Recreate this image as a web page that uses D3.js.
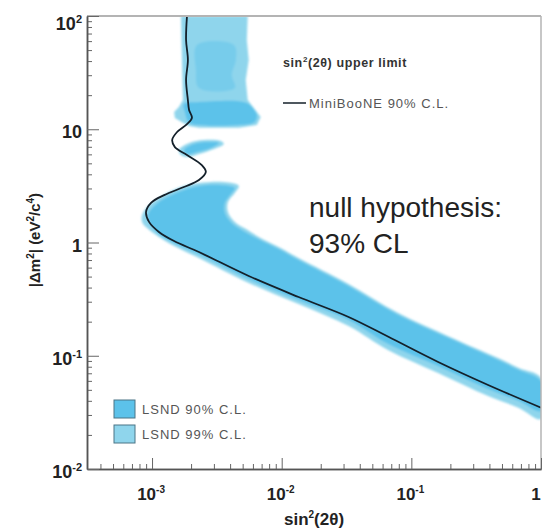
<!DOCTYPE html>
<html>
<head>
<meta charset="utf-8">
<script src="https://cdn.jsdelivr.net/npm/d3@7"></script>
<style>
  body { margin: 0; background: #fff; }
  text { font-family: "Liberation Sans", Arial, Helvetica, sans-serif; }
</style>
</head>
<body>
<svg id="chart" width="542" height="528"></svg>
<script>
// Axis ticks and their labels ([base, exponent])
const xTickValues = [1e-3, 1e-2, 1e-1, 1];
const xTickLabels = [["10", "-3"], ["10", "-2"], ["10", "-1"], ["1", ""]];
const yTickValues = [1e-2, 1e-1, 1, 10, 100];
const yTickLabels = [["10", "-2"], ["10", "-1"], ["1", ""], ["10", ""], ["10", "2"]];

// MiniBooNE 90% C.L. upper limit: [sin^2(2θ), Δm^2 (eV^2/c^4)]
const miniBooNE = [
  [1.86e-3, 100], [1.83e-3, 61.4], [1.89e-3, 40.9], [1.83e-3, 27.2], [1.89e-3, 18.1],
  [1.93e-3, 14.8], [2.03e-3, 12.6], [1.86e-3, 11.1], [1.56e-3, 9.46], [1.43e-3, 8.04],
  [1.50e-3, 6.96], [1.86e-3, 5.93], [2.42e-3, 4.83], [2.60e-3, 4.20], [2.30e-3, 3.56],
  [1.76e-3, 3.09], [1.24e-3, 2.62], [9.82e-4, 2.24], [8.99e-4, 1.86], [9.48e-4, 1.52],
  [1.13e-3, 1.24], [1.48e-3, 1.03], [2.30e-3, 0.824], [5.57e-3, 0.506], [1.35e-2, 0.330],
  [3.28e-2, 0.220], [6.65e-2, 0.147], [0.161, 0.0881], [0.391, 0.0552], [1.0, 0.0348]
];

// LSND 99% C.L. allowed regions (closed contours)
const lsnd99Top = [
  [1.67e-3, 100], [5.47e-3, 100], [5.38e-3, 61.4], [5.57e-3, 40.9], [5.28e-3, 27.2],
  [5.47e-3, 18.1], [6.89e-3, 12.8], [6.43e-3, 10.9], [4.67e-3, 10.3], [2.30e-3, 10.3],
  [1.93e-3, 10.7], [1.73e-3, 11.4], [1.50e-3, 12.6], [1.48e-3, 14.2], [1.61e-3, 15.7],
  [1.73e-3, 18.1], [1.70e-3, 40.9]
];
const lsnd99Finger = [
  [1.61e-3, 6.56], [1.93e-3, 7.56], [2.51e-3, 8.04], [3.40e-3, 7.87], [3.58e-3, 7.41],
  [3.00e-3, 6.69], [2.30e-3, 6.04], [1.86e-3, 5.69], [1.67e-3, 5.93]
];
const lsnd99Main = [
  [8.38e-4, 1.75], [9.48e-4, 2.14], [1.13e-3, 2.47], [1.35e-3, 2.79], [1.76e-3, 3.16],
  [2.30e-3, 3.35], [3.58e-3, 3.42], [4.67e-3, 3.16], [4.35e-3, 2.74], [3.85e-3, 2.28],
  [3.85e-3, 1.86], [4.35e-3, 1.52], [5.28e-3, 1.32], [6.65e-3, 1.12], [9.48e-3, 0.912],
  [1.35e-2, 0.730], [3.28e-2, 0.430], [7.94e-2, 0.238], [0.193, 0.149], [0.467, 0.0955],
  [0.676, 0.0780], [1.0, 0.0637], [1.0, 0.0276], [0.676, 0.0346], [0.391, 0.0441],
  [0.161, 0.0705], [6.65e-2, 0.112], [3.28e-2, 0.183], [1.35e-2, 0.286], [5.57e-3, 0.439],
  [2.30e-3, 0.730], [1.48e-3, 0.931], [1.13e-3, 1.12], [9.16e-4, 1.34], [8.38e-4, 1.52]
];

// LSND 90% C.L. allowed regions (closed contours)
const lsnd90Top = [
  [1.76e-3, 16.7], [2.30e-3, 17.4], [4.67e-3, 17.7], [5.57e-3, 16.7], [6.43e-3, 13.4],
  [6.19e-3, 11.6], [4.67e-3, 10.9], [2.30e-3, 10.9], [1.93e-3, 11.4], [1.79e-3, 14.2]
];
const lsnd90Streak = [
  [2.22e-3, 55.5], [4.28e-3, 55.5], [4.43e-3, 40.9], [4.12e-3, 30.1], [4.35e-3, 23.1],
  [2.30e-3, 23.1], [2.18e-3, 33.3]
];
const lsnd90Finger = [
  [1.76e-3, 6.56], [2.10e-3, 7.41], [2.74e-3, 7.71], [3.28e-3, 7.56], [2.84e-3, 6.83],
  [2.22e-3, 6.30], [1.86e-3, 6.04]
];
const lsnd90Main = [
  [9.48e-4, 1.86], [1.13e-3, 2.28], [1.40e-3, 2.62], [1.76e-3, 2.91], [2.30e-3, 3.16],
  [3.40e-3, 3.22], [4.35e-3, 3.03], [4.06e-3, 2.68], [3.65e-3, 2.24], [3.65e-3, 1.82],
  [4.12e-3, 1.49], [5.10e-3, 1.26], [6.65e-3, 1.07], [9.48e-3, 0.875], [1.35e-2, 0.700],
  [3.28e-2, 0.413], [7.94e-2, 0.229], [0.193, 0.144], [0.467, 0.0917], [0.676, 0.0748],
  [1.0, 0.0598], [1.0, 0.0325], [0.676, 0.0398], [0.391, 0.0508], [0.161, 0.0811],
  [6.65e-2, 0.127], [3.28e-2, 0.207], [1.35e-2, 0.310], [5.57e-3, 0.476], [2.30e-3, 0.791],
  [1.48e-3, 0.990], [1.13e-3, 1.19], [9.82e-4, 1.43], [9.31e-4, 1.64]
];

const legendEntries = ["LSND 90% C.L.", "LSND 99% C.L."];

const C90 = "#5cc2ea";
const C99 = "#8fd5ec";

const svg = d3.select("#chart");
const L = 87, R = 541, T = 16, B = 469;
const x = d3.scaleLog().domain([3.15e-4, 1]).range([L, R]);
const y = d3.scaleLog().domain([0.01, 100]).range([B, T]);

const defs = svg.append("defs");
defs.append("clipPath").attr("id", "plotClip")
  .append("rect").attr("x", L).attr("y", T).attr("width", R - L).attr("height", B - T);
defs.append("filter").attr("id", "soft").attr("x", "-5%").attr("y", "-5%").attr("width", "110%").attr("height", "110%")
  .append("feGaussianBlur").attr("stdDeviation", 1.1);

const plot = svg.append("g").attr("clip-path", "url(#plotClip)");
const bands = plot.append("g").attr("filter", "url(#soft)");

const smooth = d3.line().x(d => x(d[0])).y(d => y(d[1])).curve(d3.curveCatmullRomClosed.alpha(0.5));
const straight = d3.line().x(d => x(d[0])).y(d => y(d[1])).curve(d3.curveLinearClosed);

bands.append("path").attr("d", straight(lsnd99Top)).attr("fill", C99);
bands.append("path").attr("d", smooth(lsnd99Finger)).attr("fill", C99);
bands.append("path").attr("d", smooth(lsnd99Main)).attr("fill", C99);
bands.append("path").attr("d", smooth(lsnd90Top)).attr("fill", C90);
bands.append("path").attr("d", smooth(lsnd90Streak)).attr("fill", C90).attr("opacity", 0.45);
bands.append("path").attr("d", smooth(lsnd90Finger)).attr("fill", C90);
bands.append("path").attr("d", smooth(lsnd90Main)).attr("fill", C90);

plot.append("path")
  .attr("d", d3.line().x(d => x(d[0])).y(d => y(d[1])).curve(d3.curveCatmullRom.alpha(0.5))(miniBooNE))
  .attr("fill", "none").attr("stroke", "#14202a").attr("stroke-width", 1.8);

// Frame
svg.append("line").attr("x1", L).attr("x2", R).attr("y1", T).attr("y2", T).attr("stroke", "#b4b4b4").attr("stroke-width", 2);
svg.append("line").attr("x1", R).attr("x2", R).attr("y1", T).attr("y2", B).attr("stroke", "#b4b4b4").attr("stroke-width", 1.5);

// Axes with major and minor ticks pointing into the plot
const isDecade = v => Math.abs(Math.log10(v) - Math.round(Math.log10(v))) < 1e-9;
const xMinor = x.ticks().filter(v => !isDecade(v));
const yMinor = y.ticks().filter(v => !isDecade(v));

function styleAxis(g) {
  g.select(".domain").attr("stroke", "#555").attr("stroke-width", 1.5);
  g.selectAll(".tick line").attr("stroke", "#666").attr("stroke-width", 1);
  g.selectAll(".tick text").remove();
}
svg.append("g").attr("transform", `translate(0,${B})`)
  .call(d3.axisBottom(x).tickValues(xMinor).tickSizeInner(-5).tickSizeOuter(0)).call(styleAxis);
svg.append("g").attr("transform", `translate(0,${B})`)
  .call(d3.axisBottom(x).tickValues(xTickValues).tickSizeInner(-11).tickSizeOuter(0)).call(styleAxis);
svg.append("g").attr("transform", `translate(${L},0)`)
  .call(d3.axisLeft(y).tickValues(yMinor).tickSizeInner(-5).tickSizeOuter(0)).call(styleAxis);
svg.append("g").attr("transform", `translate(${L},0)`)
  .call(d3.axisLeft(y).tickValues(yTickValues).tickSizeInner(-12).tickSizeOuter(0)).call(styleAxis);

function powerLabel(sel, lbl, supSize, rise) {
  sel.append("tspan").text(lbl[0]);
  if (lbl[1]) sel.append("tspan").attr("font-size", supSize).attr("dy", -rise).text(lbl[1]);
}

yTickValues.forEach((v, i) => {
  const t = svg.append("text").attr("x", 82).attr("y", Math.max(y(v) + 9, 30))
    .attr("text-anchor", "end").attr("font-size", 18).attr("font-weight", "bold").attr("fill", "#222");
  powerLabel(t, yTickLabels[i], 11, 7);
});
xTickValues.forEach((v, i) => {
  // keep the last label inside the canvas
  const px = Math.min(x(v) - 1, 536);
  const t = svg.append("text").attr("x", px).attr("y", 500)
    .attr("text-anchor", "middle").attr("font-size", 17).attr("font-weight", "bold").attr("fill", "#222");
  powerLabel(t, xTickLabels[i], 10, 7);
});

// Axis titles
const xt = svg.append("text").attr("x", 314).attr("y", 525).attr("text-anchor", "middle")
  .attr("font-size", 17).attr("font-weight", "bold").attr("fill", "#222");
xt.append("tspan").text("sin");
xt.append("tspan").attr("font-size", 10).attr("dy", -7).text("2");
xt.append("tspan").attr("dy", 7).text("(2θ)");

const yt = svg.append("text").attr("transform", "translate(40,240) rotate(-90)").attr("text-anchor", "middle")
  .attr("font-size", 15).attr("font-weight", "bold").attr("fill", "#222");
yt.append("tspan").text("|Δm");
yt.append("tspan").attr("font-size", 10).attr("dy", -6).text("2");
yt.append("tspan").attr("dy", 6).text("|  (eV");
yt.append("tspan").attr("font-size", 10).attr("dy", -6).text("2");
yt.append("tspan").attr("dy", 6).text("/c");
yt.append("tspan").attr("font-size", 10).attr("dy", -6).text("4");
yt.append("tspan").attr("dy", 6).text(")");

// Upper-limit legend
const lt = svg.append("text").attr("x", 283).attr("y", 67).attr("font-size", 12.5).attr("font-weight", "bold")
  .attr("letter-spacing", 0.6).attr("fill", "#333");
lt.append("tspan").text("sin");
lt.append("tspan").attr("font-size", 8).attr("dy", -5).text("2");
lt.append("tspan").attr("dy", 5).text("(2θ) upper limit");
svg.append("line").attr("x1", 283).attr("x2", 306).attr("y1", 103).attr("y2", 103).attr("stroke", "#14202a").attr("stroke-width", 1.5);
svg.append("text").attr("x", 309).attr("y", 108).attr("font-size", 13).attr("letter-spacing", 1)
  .attr("fill", "#555").text("MiniBooNE 90% C.L.");

// Null hypothesis annotation
svg.append("text").attr("x", 309).attr("y", 217).attr("font-size", 28).attr("fill", "#222").text("null hypothesis:");
svg.append("text").attr("x", 309).attr("y", 253).attr("font-size", 28).attr("fill", "#222").text("93% CL");

// LSND legend
const boxColors = [C90, C99];
legendEntries.forEach((name, i) => {
  const yy = 400 + i * 25;
  svg.append("rect").attr("x", 114).attr("y", yy).attr("width", 21).attr("height", 18)
    .attr("fill", boxColors[i]).attr("stroke", "#4a7486").attr("stroke-width", 1);
  svg.append("text").attr("x", 142).attr("y", yy + 14).attr("font-size", 13).attr("letter-spacing", 1)
    .attr("fill", "#555").text(name);
});
</script>
</body>
</html>
